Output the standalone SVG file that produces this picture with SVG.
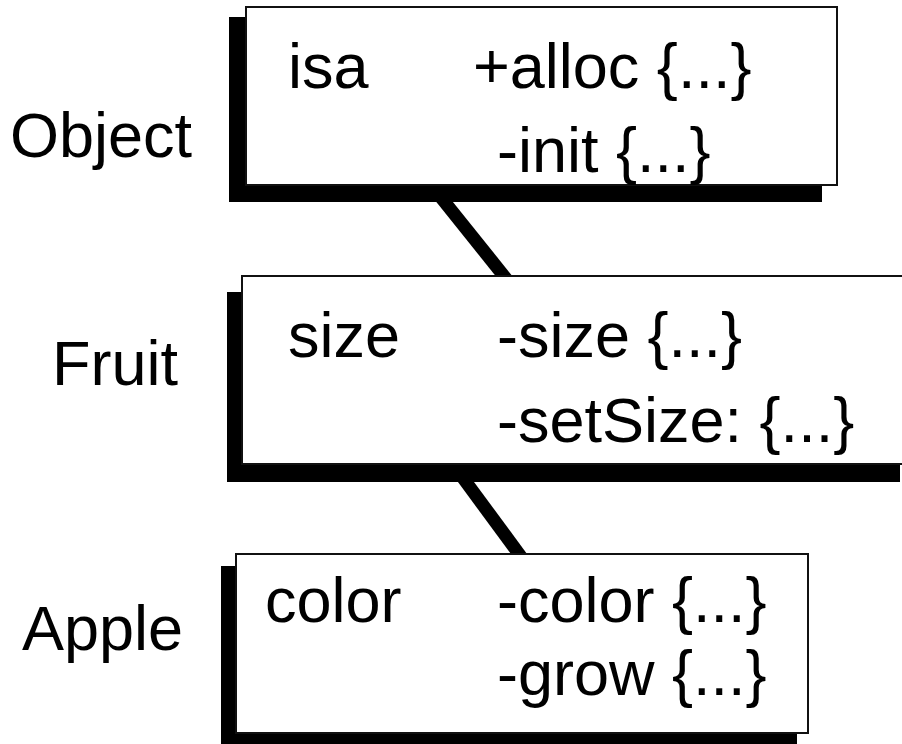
<svg xmlns="http://www.w3.org/2000/svg" width="902" height="744" viewBox="0 0 902 744">
  <style>
    .shadow { fill: #000; }
    .box { fill: #fff; stroke: #111; stroke-width: 2; }
    .link { stroke: #000; stroke-width: 13; fill: none; }
    text { font-family: "Liberation Sans", Arial, Helvetica, sans-serif; font-size: 63px; fill: #000; }
  </style>
  <rect width="902" height="744" fill="#fff"/>

  <!-- inheritance links -->
  <g id="connectors">
    <line class="link" x1="427" y1="180" x2="520" y2="296"/>
    <line class="link" x1="452" y1="463" x2="533" y2="573"/>
  </g>

  <g id="object">
    <rect class="shadow" x="229" y="17" width="593" height="185"/>
    <rect class="box" x="246" y="7" width="591" height="178"/>
    <text x="10" y="157">Object</text>
    <text x="288" y="88">isa</text>
    <text x="473" y="88">+alloc {...}</text>
    <text x="497" y="172">-init {...}</text>
  </g>

  <g id="fruit">
    <rect class="shadow" x="227" y="292" width="673" height="190"/>
    <rect class="box" x="242" y="276" width="680" height="188"/>
    <text x="52" y="385">Fruit</text>
    <text x="288" y="357">size</text>
    <text x="497" y="357">-size {...}</text>
    <text x="497" y="442">-setSize: {...}</text>
  </g>

  <g id="apple">
    <rect class="shadow" x="221" y="566" width="576" height="190"/>
    <rect class="box" x="236" y="554" width="572" height="179"/>
    <text x="22" y="650">Apple</text>
    <text x="265" y="622">color</text>
    <text x="497" y="622">-color {...}</text>
    <text x="497" y="695">-grow {...}</text>
  </g>
</svg>
